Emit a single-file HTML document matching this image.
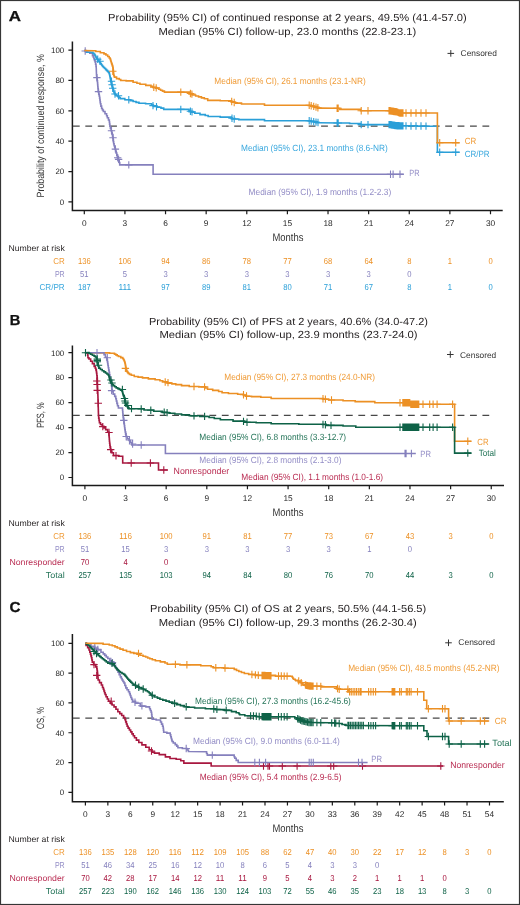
<!DOCTYPE html><html><head><meta charset="utf-8"><style>html,body{margin:0;padding:0;background:#fff;}svg{display:block;will-change:transform;}text{font-family:"Liberation Sans",sans-serif;text-rendering:geometricPrecision;}</style></head><body>
<svg width="520" height="905" viewBox="0 0 520 905">
<rect x="0" y="0" width="520" height="905" fill="#fff"/>
<rect x="0.5" y="0.5" width="519" height="904" fill="none" stroke="#363636" stroke-width="1.2"/>
<text x="8.68" y="21.1" font-size="14.5" fill="#111" textLength="12.24" lengthAdjust="spacingAndGlyphs" font-weight="bold" stroke="#111" stroke-width="0.3">A</text>
<text x="108.03" y="21.15" font-size="10.3" fill="#231F20" textLength="358.74" lengthAdjust="spacingAndGlyphs">Probability (95% CI) of continued response at 2 years, 49.5% (41.4-57.0)</text>
<text x="158.48" y="34.9" font-size="10.3" fill="#231F20" textLength="257.74" lengthAdjust="spacingAndGlyphs">Median (95% CI) follow-up, 23.0 months (22.8-23.1)</text>
<path d="M450.8 50.1V56.7M447.5 53.4H454.1" stroke="#333" stroke-width="1" fill="none"/>
<text x="460.61" y="55.8" font-size="8.4" fill="#333" textLength="36.31" lengthAdjust="spacingAndGlyphs">Censored</text>
<text transform="translate(44.3 125.8) rotate(-90)" x="0" y="0" font-size="10.5" fill="#333" text-anchor="middle" textLength="143.3" lengthAdjust="spacingAndGlyphs">Probability of continued response, %</text>
<path d="M72.4 41.5V210.5H502.7" stroke="#1a1a1a" stroke-width="1.5" fill="none"/>
<text x="64.2" y="52.9" font-size="7.9" fill="#262626" text-anchor="end">100</text>
<text x="64.2" y="83.26" font-size="7.9" fill="#262626" text-anchor="end">80</text>
<text x="64.2" y="113.62" font-size="7.9" fill="#262626" text-anchor="end">60</text>
<text x="64.2" y="143.98" font-size="7.9" fill="#262626" text-anchor="end">40</text>
<text x="64.2" y="174.34" font-size="7.9" fill="#262626" text-anchor="end">20</text>
<text x="64.2" y="204.7" font-size="7.9" fill="#262626" text-anchor="end">0</text>
<text x="84.3" y="225.9" font-size="8.3" fill="#262626" text-anchor="middle">0</text>
<text x="124.92" y="225.9" font-size="8.3" fill="#262626" text-anchor="middle">3</text>
<text x="165.54" y="225.9" font-size="8.3" fill="#262626" text-anchor="middle">6</text>
<text x="206.16" y="225.9" font-size="8.3" fill="#262626" text-anchor="middle">9</text>
<text x="246.78" y="225.9" font-size="8.3" fill="#262626" text-anchor="middle">12</text>
<text x="287.4" y="225.9" font-size="8.3" fill="#262626" text-anchor="middle">15</text>
<text x="328.02" y="225.9" font-size="8.3" fill="#262626" text-anchor="middle">18</text>
<text x="368.64" y="225.9" font-size="8.3" fill="#262626" text-anchor="middle">21</text>
<text x="409.26" y="225.9" font-size="8.3" fill="#262626" text-anchor="middle">24</text>
<text x="449.88" y="225.9" font-size="8.3" fill="#262626" text-anchor="middle">27</text>
<text x="490.5" y="225.9" font-size="8.3" fill="#262626" text-anchor="middle">30</text>
<path d="M68.4 50.1H72.4M68.4 80.46H72.4M68.4 110.82H72.4M68.4 141.18H72.4M68.4 171.54H72.4M68.4 201.9H72.4M84.3 210.5V214.3M124.92 210.5V214.3M165.54 210.5V214.3M206.16 210.5V214.3M246.78 210.5V214.3M287.4 210.5V214.3M328.02 210.5V214.3M368.64 210.5V214.3M409.26 210.5V214.3M449.88 210.5V214.3M490.5 210.5V214.3" stroke="#1a1a1a" stroke-width="1.2" fill="none"/>
<text x="272.53" y="241.2" font-size="11" fill="#333" textLength="30.92" lengthAdjust="spacingAndGlyphs">Months</text>
<path d="M72.9 126.15H490" stroke="#484848" stroke-width="1.25" stroke-dasharray="6.8 5.61" fill="none"/>
<polyline points="84.4,50.5 86.05,50.5 86.05,52.3 87.7,52.3 89.8,52.3 89.8,53.1 91.9,53.1 92.5,53.1 92.5,55.8 93.1,55.8 93.38,55.8 93.38,57.3 93.92,57.3 93.92,58.8 94.2,58.8 94.5,58.8 94.5,60.35 95.1,60.35 95.1,61.9 95.4,61.9 95.6,61.9 95.6,64.2 96,64.2 96,66.5 96.2,66.5 96.5,75 96.65,75 96.65,76.97 96.95,76.97 96.95,78.93 97.25,78.93 97.25,80.9 97.4,80.9 97.48,80.9 97.48,82.76 97.64,82.76 97.64,84.62 97.8,84.62 97.8,86.48 97.96,86.48 97.96,88.34 98.12,88.34 98.12,90.2 98.2,90.2 98.42,90.2 98.42,92.2 98.85,92.2 98.85,94.2 99.28,94.2 99.28,96.2 99.5,96.2 99.62,96.2 99.62,98.1 99.88,98.1 99.88,100 100.12,100 100.12,101.9 100.38,101.9 100.38,103.8 100.5,103.8 100.88,103.8 100.88,106.15 101.62,106.15 101.62,108.5 102,108.5 102.45,108.5 102.45,110 103.35,110 103.35,111.5 103.8,111.5 105,111.5 105,113.8 106.2,113.8 106.58,113.8 106.58,115.75 107.33,115.75 107.33,117.7 107.7,117.7 108.45,117.7 108.45,120 109.2,120 109.33,120 109.33,122.07 109.6,122.07 109.6,124.13 109.87,124.13 109.87,126.2 110,126.2 110.38,126.2 110.38,128.5 111.12,128.5 111.12,130.8 111.5,130.8 111.72,130.8 111.72,132.6 112.15,132.6 112.15,134.4 112.58,134.4 112.58,136.2 112.8,136.2 112.92,136.2 112.92,138.1 113.17,138.1 113.17,140 113.42,140 113.42,141.9 113.67,141.9 113.67,143.8 113.8,143.8 114.1,143.8 114.1,145.75 114.7,145.75 114.7,147.7 115,147.7 115.25,147.7 115.25,149.5 115.75,149.5 115.75,151.3 116.25,151.3 116.25,153.1 116.5,153.1 116.8,153.1 116.8,155.4 117.4,155.4 117.4,157.7 117.7,157.7 118.3,157.7 118.3,160 118.9,160 119.18,160 119.18,162.45 119.72,162.45 119.72,164.9 120,164.9 153.1,164.9 153.1,174.3 403.8,174.3" fill="none" stroke="#8580BD" stroke-width="1.6" stroke-linejoin="miter" />
<path d="M96.9 73.92V81.32M93.2 77.62H100.6M98.5 87.88V95.28M94.8 91.58H102.2M111.5 127.1V134.5M107.8 130.8H115.2M113 134.02V141.42M109.3 137.72H116.7M115.4 145.44V152.84M111.7 149.14H119.1M117.7 154V161.4M114 157.7H121.4M118.6 155.72V163.12M114.9 159.42H122.3M128.8 161.2V168.6M125.1 164.9H132.5M390.5 170.6V178M386.8 174.3H394.2M393.1 170.6V178M389.4 174.3H396.8M400 170.6V178M396.3 174.3H403.7" stroke="#8580BD" stroke-width="1.1" fill="none"/>
<polyline points="84.4,50.5 85.23,50.5 85.23,51.4 86.88,51.4 86.88,52.3 87.7,52.3 92.3,52.3 92.88,52.3 92.88,53.25 94.02,53.25 94.02,54.2 94.6,54.2 94.87,54.2 94.87,55.23 95.4,55.23 95.4,56.27 95.93,56.27 95.93,57.3 96.2,57.3 96.58,57.3 96.58,58.33 97.35,58.33 97.35,59.37 98.12,59.37 98.12,60.4 98.5,60.4 98.88,60.4 98.88,61.43 99.65,61.43 99.65,62.47 100.42,62.47 100.42,63.5 100.8,63.5 101.17,63.5 101.17,64.5 101.9,64.5 101.9,65.5 102.63,65.5 102.63,66.5 103,66.5 103.53,66.5 103.53,67.53 104.6,67.53 104.6,68.57 105.67,68.57 105.67,69.6 106.2,69.6 106.7,69.6 106.7,70.63 107.7,70.63 107.7,71.67 108.7,71.67 108.7,72.7 109.2,72.7 109.3,72.7 109.3,73.6 109.5,73.6 109.5,74.5 109.7,74.5 109.7,75.4 109.9,75.4 109.9,76.3 110,76.3 110.08,76.3 110.08,77.22 110.24,77.22 110.24,78.14 110.4,78.14 110.4,79.06 110.56,79.06 110.56,79.98 110.72,79.98 110.72,80.9 110.8,80.9 110.92,80.9 110.92,81.93 111.15,81.93 111.15,82.97 111.38,82.97 111.38,84 111.5,84 111.66,84 111.66,84.92 111.98,84.92 111.98,85.84 112.3,85.84 112.3,86.76 112.62,86.76 112.62,87.68 112.94,87.68 112.94,88.6 113.1,88.6 113.23,88.6 113.23,89.56 113.49,89.56 113.49,90.52 113.75,90.52 113.75,91.48 114.01,91.48 114.01,92.44 114.27,92.44 114.27,93.4 114.4,93.4 115.12,93.4 115.12,94.6 116.58,94.6 116.58,95.8 117.3,95.8 117.88,95.8 117.88,96.73 119.05,96.73 119.05,97.67 120.22,97.67 120.22,98.6 120.8,98.6 124.8,98.6 124.8,99.8 128.8,99.8 130.25,99.8 130.25,100.65 133.15,100.65 133.15,101.5 134.6,101.5 136.05,101.5 136.05,102.4 138.95,102.4 138.95,103.3 140.4,103.3 145.6,103.3 145.6,103.8 150.8,103.8 151.65,103.8 151.65,104.95 153.35,104.95 153.35,106.1 154.2,106.1 157.1,106.1 157.1,107.3 160,107.3 161,107.3 161,108.1 162,108.1 163.7,108.1 163.7,109.4 165.4,109.4 188.5,109.4 188.97,109.4 188.97,110.35 189.93,110.35 189.93,111.3 190.4,111.3 191.85,111.3 191.85,112.3 194.75,112.3 194.75,113.3 196.2,113.3 200,113.3 200,114.6 203.8,114.6 205.25,114.6 205.25,115.55 208.15,115.55 208.15,116.5 209.6,116.5 220.2,116.5 220.2,117.1 230.8,117.1 231.28,117.1 231.28,118.05 232.22,118.05 232.22,119 232.7,119 238.75,119 238.75,119.6 244.8,119.6 264,119.6 264.5,119.6 264.5,120.8 265,120.8 309.2,120.8 311.1,120.8 311.1,121.5 313,121.5 315.9,121.5 315.9,122.7 318.8,122.7 339.2,123 349.6,123 349.6,123.5 360,123.5 360.6,123.5 360.6,124.6 361.2,124.6 390,124.6 393.5,124.6 393.5,125.8 397,125.8 417.2,125.8 417.2,126.2 437.4,126.2 437.4,152.3 459.7,152.3" fill="none" stroke="#2A9FD8" stroke-width="1.6" stroke-linejoin="miter" />
<path d="M85.2 47.24V54.64M81.5 50.94H88.9" stroke="#8580BD" stroke-width="1.1" fill="none"/>
<path d="M97.7 55.5V62.9M94 59.2H101.4M100 57.5V64.9M96.3 61.2H103.7M111.5 77.6V85M107.8 81.3H115.2M112.1 81.1V88.5M108.4 84.8H115.8M112.7 84.6V92M109 88.3H116.4M115 90.3V97.7M111.3 94H118.7M118.5 92.1V99.5M114.8 95.8H122.2M128.8 96.1V103.5M125.1 99.8H132.5M153 101.9V109.3M149.3 105.6H156.7M156.5 103V110.4M152.8 106.7H160.2M180.8 105.7V113.1M177.1 109.4H184.5M190.4 107.6V115M186.7 111.3H194.1M192 108.15V115.55M188.3 111.85H195.7M232 114.6V122M228.3 118.3H235.7M234.2 115.37V122.77M230.5 119.07H237.9M309.2 117.1V124.5M305.5 120.8H312.9M311.2 117.47V124.87M307.5 121.17H314.9M313.7 117.94V125.34M310 121.64H317.4M316 118.42V125.82M312.3 122.12H319.7M318 118.83V126.23M314.3 122.53H321.7M337.1 119.27V126.67M333.4 122.97H340.8M338.2 119.29V126.69M334.5 122.99H341.9M361.2 120.9V128.3M357.5 124.6H364.9M368 120.9V128.3M364.3 124.6H371.7M389 120.9V128.3M385.3 124.6H392.7M390 120.9V128.3M386.3 124.6H393.7M391 121.07V128.47M387.3 124.77H394.7M392 121.24V128.64M388.3 124.94H395.7M393 121.41V128.81M389.3 125.11H396.7M394 121.59V128.99M390.3 125.29H397.7M395 121.76V129.16M391.3 125.46H398.7M396 121.93V129.33M392.3 125.63H399.7M397 122.1V129.5M393.3 125.8H400.7M398 122.11V129.51M394.3 125.81H401.7M399 122.12V129.52M395.3 125.82H402.7M400 122.13V129.53M396.3 125.83H403.7M401 122.14V129.54M397.3 125.84H404.7M402 122.15V129.55M398.3 125.85H405.7M403 122.16V129.56M399.3 125.86H406.7M406 122.19V129.59M402.3 125.89H409.7M411 122.24V129.64M407.3 125.94H414.7M416 122.29V129.69M412.3 125.99H419.7M421 122.34V129.74M417.3 126.04H424.7M426 122.39V129.79M422.3 126.09H429.7M439.7 148.6V156M436 152.3H443.4M455.7 148.6V156M452 152.3H459.4" stroke="#2A9FD8" stroke-width="1.1" fill="none"/>
<polyline points="84.4,50.5 93.8,50.8 95.75,50.8 95.75,51.5 97.7,51.5 100.35,51.5 100.35,52.7 103,52.7 103.97,52.7 103.97,53.85 105.93,53.85 105.93,55 106.9,55 107.68,55 107.68,56.5 109.22,56.5 109.22,58 110,58 110.19,58 110.19,59.17 110.56,59.17 110.56,60.35 110.94,60.35 110.94,61.53 111.31,61.53 111.31,62.7 111.5,62.7 111.69,62.7 111.69,63.85 112.06,63.85 112.06,65 112.44,65 112.44,66.15 112.81,66.15 112.81,67.3 113,67.3 113.07,67.3 113.07,68.58 113.2,68.58 113.2,69.87 113.33,69.87 113.33,71.15 113.47,71.15 113.47,72.43 113.6,72.43 113.6,73.72 113.73,73.72 113.73,75 113.8,75 114,75 114,76.05 114.4,76.05 114.4,77.1 114.6,77.1 116.55,77.1 116.55,78.6 118.5,78.6 119.25,78.6 119.25,79.55 120.75,79.55 120.75,80.5 121.5,80.5 126.15,80.5 126.15,80.9 130.8,80.9 133.1,80.9 133.1,82.2 135.4,82.2 136.93,82.2 136.93,83.25 139.97,83.25 139.97,84.3 141.5,84.3 145.75,84.3 145.75,85.4 150,85.4 150.95,85.4 150.95,86.35 152.85,86.35 152.85,87.3 153.8,87.3 155.75,87.3 155.75,88.3 157.7,88.3 158.65,88.3 158.65,89.25 160.55,89.25 160.55,90.2 161.5,90.2 162.47,90.2 162.47,91.15 164.43,91.15 164.43,92.1 165.4,92.1 188.5,92.1 189.45,92.1 189.45,93.5 190.4,93.5 192.3,93.5 192.3,95 194.2,95 195.65,95 195.65,95.95 198.55,95.95 198.55,96.9 200,96.9 201.45,96.9 201.45,97.85 204.35,97.85 204.35,98.8 205.8,98.8 207.7,98.8 207.7,100.4 209.6,100.4 220.2,100.4 220.2,100.8 230.8,100.8 231.75,100.8 231.75,102.3 232.7,102.3 235.6,102.3 235.6,103.1 238.5,103.1 241.5,103.1 241.5,104 244.5,104 264,104 264.5,104 264.5,105.2 265,105.2 309.2,105.2 311.15,105.2 311.15,106.2 313.1,106.2 314.53,106.2 314.53,107.15 317.38,107.15 317.38,108.1 318.8,108.1 339.2,108.3 339.8,108.3 339.8,109.4 340.4,109.4 360,109.4 360.6,109.4 360.6,110.8 361.2,110.8 390,110.8 393.5,110.8 393.5,111.9 397,111.9 398.1,111.9 398.1,113 399.2,113 437.4,113 437.4,142.8 459.7,142.8" fill="none" stroke="#EC9024" stroke-width="1.6" stroke-linejoin="miter" />
<path d="M112.8 67.6V75M109.1 71.3H116.5M153.8 83.6V91M150.1 87.3H157.5M156.2 84.22V91.62M152.5 87.92H159.9M180.8 88.4V95.8M177.1 92.1H184.5M190.4 89.8V97.2M186.7 93.5H194.1M191.9 90.39V97.79M188.2 94.09H195.6M231.7 97.81V105.21M228 101.51H235.4M234.2 98.81V106.21M230.5 102.51H237.9M309.2 101.5V108.9M305.5 105.2H312.9M311.2 102.01V109.41M307.5 105.71H314.9M313.7 102.7V110.1M310 106.4H317.4M316 103.47V110.87M312.3 107.17H319.7M317.9 104.1V111.5M314.2 107.8H321.6M337.1 104.58V111.98M333.4 108.28H340.8M338.2 104.59V111.99M334.5 108.29H341.9M361.2 107.1V114.5M357.5 110.8H364.9M368 107.1V114.5M364.3 110.8H371.7M389 107.1V114.5M385.3 110.8H392.7M390 107.1V114.5M386.3 110.8H393.7M391 107.26V114.66M387.3 110.96H394.7M392 107.41V114.81M388.3 111.11H395.7M393 107.57V114.97M389.3 111.27H396.7M394 107.73V115.13M390.3 111.43H397.7M395 107.89V115.29M391.3 111.59H398.7M396 108.04V115.44M392.3 111.74H399.7M397 108.2V115.6M393.3 111.9H400.7M398 108.7V116.1M394.3 112.4H401.7M399 109.2V116.6M395.3 112.9H402.7M400 109.3V116.7M396.3 113H403.7M401 109.3V116.7M397.3 113H404.7M402 109.3V116.7M398.3 113H405.7M403 109.3V116.7M399.3 113H406.7M406 109.3V116.7M402.3 113H409.7M411 109.3V116.7M407.3 113H414.7M416 109.3V116.7M412.3 113H419.7M421 109.3V116.7M417.3 113H424.7M426 109.3V116.7M422.3 113H429.7M439.7 139.1V146.5M436 142.8H443.4M455.7 139.1V146.5M452 142.8H459.4" stroke="#EC9024" stroke-width="1.1" fill="none"/>
<text x="214.37" y="83.6" font-size="9" fill="#F09C38" textLength="151.48" lengthAdjust="spacingAndGlyphs">Median (95% CI), 26.1 months (23.1-NR)</text>
<text x="241.07" y="150.5" font-size="9" fill="#3AA8DE" textLength="146.68" lengthAdjust="spacingAndGlyphs">Median (95% CI), 23.1 months (8.6-NR)</text>
<text x="248.57" y="194.7" font-size="9" fill="#938DC6" textLength="142.68" lengthAdjust="spacingAndGlyphs">Median (95% CI), 1.9 months (1.2-2.3)</text>
<text x="464.77" y="143.5" font-size="9" fill="#F09C38" textLength="11.48" lengthAdjust="spacingAndGlyphs">CR</text>
<text x="464.77" y="156.9" font-size="9" fill="#3AA8DE" textLength="24.88" lengthAdjust="spacingAndGlyphs">CR/PR</text>
<text x="409.37" y="176.2" font-size="9" fill="#938DC6" textLength="10.28" lengthAdjust="spacingAndGlyphs">PR</text>
<text x="8.41" y="251.3" font-size="8.4" fill="#231F20" textLength="56.31" lengthAdjust="spacingAndGlyphs">Number at risk</text>
<text x="53.2" y="264.3" font-size="8.6" fill="#F09C38" textLength="11.53" lengthAdjust="spacingAndGlyphs">CR</text>
<text x="84.3" y="264.3" font-size="8.6" fill="#EC9024" text-anchor="middle" textLength="12.75" lengthAdjust="spacingAndGlyphs">136</text>
<text x="124.92" y="264.3" font-size="8.6" fill="#EC9024" text-anchor="middle" textLength="12.75" lengthAdjust="spacingAndGlyphs">106</text>
<text x="165.54" y="264.3" font-size="8.6" fill="#EC9024" text-anchor="middle" textLength="8.5" lengthAdjust="spacingAndGlyphs">94</text>
<text x="206.16" y="264.3" font-size="8.6" fill="#EC9024" text-anchor="middle" textLength="8.5" lengthAdjust="spacingAndGlyphs">86</text>
<text x="246.78" y="264.3" font-size="8.6" fill="#EC9024" text-anchor="middle" textLength="8.5" lengthAdjust="spacingAndGlyphs">78</text>
<text x="287.4" y="264.3" font-size="8.6" fill="#EC9024" text-anchor="middle" textLength="8.5" lengthAdjust="spacingAndGlyphs">77</text>
<text x="328.02" y="264.3" font-size="8.6" fill="#EC9024" text-anchor="middle" textLength="8.5" lengthAdjust="spacingAndGlyphs">68</text>
<text x="368.64" y="264.3" font-size="8.6" fill="#EC9024" text-anchor="middle" textLength="8.5" lengthAdjust="spacingAndGlyphs">64</text>
<text x="409.26" y="264.3" font-size="8.6" fill="#EC9024" text-anchor="middle" textLength="4.25" lengthAdjust="spacingAndGlyphs">8</text>
<text x="449.88" y="264.3" font-size="8.6" fill="#EC9024" text-anchor="middle" textLength="4.25" lengthAdjust="spacingAndGlyphs">1</text>
<text x="490.5" y="264.3" font-size="8.6" fill="#EC9024" text-anchor="middle" textLength="4.25" lengthAdjust="spacingAndGlyphs">0</text>
<text x="54.9" y="277" font-size="8.6" fill="#938DC6" textLength="9.83" lengthAdjust="spacingAndGlyphs">PR</text>
<text x="84.3" y="277" font-size="8.6" fill="#8580BD" text-anchor="middle" textLength="8.5" lengthAdjust="spacingAndGlyphs">51</text>
<text x="124.92" y="277" font-size="8.6" fill="#8580BD" text-anchor="middle" textLength="4.25" lengthAdjust="spacingAndGlyphs">5</text>
<text x="165.54" y="277" font-size="8.6" fill="#8580BD" text-anchor="middle" textLength="4.25" lengthAdjust="spacingAndGlyphs">3</text>
<text x="206.16" y="277" font-size="8.6" fill="#8580BD" text-anchor="middle" textLength="4.25" lengthAdjust="spacingAndGlyphs">3</text>
<text x="246.78" y="277" font-size="8.6" fill="#8580BD" text-anchor="middle" textLength="4.25" lengthAdjust="spacingAndGlyphs">3</text>
<text x="287.4" y="277" font-size="8.6" fill="#8580BD" text-anchor="middle" textLength="4.25" lengthAdjust="spacingAndGlyphs">3</text>
<text x="328.02" y="277" font-size="8.6" fill="#8580BD" text-anchor="middle" textLength="4.25" lengthAdjust="spacingAndGlyphs">3</text>
<text x="368.64" y="277" font-size="8.6" fill="#8580BD" text-anchor="middle" textLength="4.25" lengthAdjust="spacingAndGlyphs">3</text>
<text x="409.26" y="277" font-size="8.6" fill="#8580BD" text-anchor="middle" textLength="4.25" lengthAdjust="spacingAndGlyphs">0</text>
<text x="39.4" y="289.6" font-size="8.6" fill="#3AA8DE" textLength="25.33" lengthAdjust="spacingAndGlyphs">CR/PR</text>
<text x="84.3" y="289.6" font-size="8.6" fill="#2A9FD8" text-anchor="middle" textLength="12.75" lengthAdjust="spacingAndGlyphs">187</text>
<text x="124.92" y="289.6" font-size="8.6" fill="#2A9FD8" text-anchor="middle" textLength="12.75" lengthAdjust="spacingAndGlyphs">111</text>
<text x="165.54" y="289.6" font-size="8.6" fill="#2A9FD8" text-anchor="middle" textLength="8.5" lengthAdjust="spacingAndGlyphs">97</text>
<text x="206.16" y="289.6" font-size="8.6" fill="#2A9FD8" text-anchor="middle" textLength="8.5" lengthAdjust="spacingAndGlyphs">89</text>
<text x="246.78" y="289.6" font-size="8.6" fill="#2A9FD8" text-anchor="middle" textLength="8.5" lengthAdjust="spacingAndGlyphs">81</text>
<text x="287.4" y="289.6" font-size="8.6" fill="#2A9FD8" text-anchor="middle" textLength="8.5" lengthAdjust="spacingAndGlyphs">80</text>
<text x="328.02" y="289.6" font-size="8.6" fill="#2A9FD8" text-anchor="middle" textLength="8.5" lengthAdjust="spacingAndGlyphs">71</text>
<text x="368.64" y="289.6" font-size="8.6" fill="#2A9FD8" text-anchor="middle" textLength="8.5" lengthAdjust="spacingAndGlyphs">67</text>
<text x="409.26" y="289.6" font-size="8.6" fill="#2A9FD8" text-anchor="middle" textLength="4.25" lengthAdjust="spacingAndGlyphs">8</text>
<text x="449.88" y="289.6" font-size="8.6" fill="#2A9FD8" text-anchor="middle" textLength="4.25" lengthAdjust="spacingAndGlyphs">1</text>
<text x="490.5" y="289.6" font-size="8.6" fill="#2A9FD8" text-anchor="middle" textLength="4.25" lengthAdjust="spacingAndGlyphs">0</text>
<text x="9.79" y="325" font-size="14.5" fill="#111" textLength="10.64" lengthAdjust="spacingAndGlyphs" font-weight="bold" stroke="#111" stroke-width="0.3">B</text>
<text x="148.98" y="324.5" font-size="10.3" fill="#231F20" textLength="279.04" lengthAdjust="spacingAndGlyphs">Probability (95% CI) of PFS at 2 years, 40.6% (34.0-47.2)</text>
<text x="159.48" y="338.3" font-size="10.3" fill="#231F20" textLength="258.14" lengthAdjust="spacingAndGlyphs">Median (95% CI) follow-up, 23.9 months (23.7-24.0)</text>
<path d="M450.3 351.2V357.8M447 354.5H453.6" stroke="#333" stroke-width="1" fill="none"/>
<text x="460.11" y="357.6" font-size="8.4" fill="#333" textLength="36.11" lengthAdjust="spacingAndGlyphs">Censored</text>
<text transform="translate(44.1 415.1) rotate(-90)" x="0" y="0" font-size="10.5" fill="#333" text-anchor="middle" textLength="25.4" lengthAdjust="spacingAndGlyphs">PFS, %</text>
<path d="M72.4 345.5V485.4H504" stroke="#1a1a1a" stroke-width="1.5" fill="none"/>
<text x="64.2" y="355.5" font-size="7.9" fill="#262626" text-anchor="end">100</text>
<text x="64.2" y="380.46" font-size="7.9" fill="#262626" text-anchor="end">80</text>
<text x="64.2" y="405.42" font-size="7.9" fill="#262626" text-anchor="end">60</text>
<text x="64.2" y="430.38" font-size="7.9" fill="#262626" text-anchor="end">40</text>
<text x="64.2" y="455.34" font-size="7.9" fill="#262626" text-anchor="end">20</text>
<text x="64.2" y="480.3" font-size="7.9" fill="#262626" text-anchor="end">0</text>
<text x="84.9" y="500.6" font-size="8.3" fill="#262626" text-anchor="middle">0</text>
<text x="125.53" y="500.6" font-size="8.3" fill="#262626" text-anchor="middle">3</text>
<text x="166.17" y="500.6" font-size="8.3" fill="#262626" text-anchor="middle">6</text>
<text x="206.81" y="500.6" font-size="8.3" fill="#262626" text-anchor="middle">9</text>
<text x="247.44" y="500.6" font-size="8.3" fill="#262626" text-anchor="middle">12</text>
<text x="288.08" y="500.6" font-size="8.3" fill="#262626" text-anchor="middle">15</text>
<text x="328.71" y="500.6" font-size="8.3" fill="#262626" text-anchor="middle">18</text>
<text x="369.35" y="500.6" font-size="8.3" fill="#262626" text-anchor="middle">21</text>
<text x="409.98" y="500.6" font-size="8.3" fill="#262626" text-anchor="middle">24</text>
<text x="450.62" y="500.6" font-size="8.3" fill="#262626" text-anchor="middle">27</text>
<text x="491.25" y="500.6" font-size="8.3" fill="#262626" text-anchor="middle">30</text>
<path d="M68.4 352.7H72.4M68.4 377.66H72.4M68.4 402.62H72.4M68.4 427.58H72.4M68.4 452.54H72.4M68.4 477.5H72.4M84.9 485.4V489.2M125.53 485.4V489.2M166.17 485.4V489.2M206.81 485.4V489.2M247.44 485.4V489.2M288.08 485.4V489.2M328.71 485.4V489.2M369.35 485.4V489.2M409.98 485.4V489.2M450.62 485.4V489.2M491.25 485.4V489.2" stroke="#1a1a1a" stroke-width="1.2" fill="none"/>
<text x="272.53" y="516.2" font-size="11" fill="#333" textLength="30.92" lengthAdjust="spacingAndGlyphs">Months</text>
<path d="M72.9 415.25H490" stroke="#484848" stroke-width="1.25" stroke-dasharray="6.8 5.61" fill="none"/>
<polyline points="84.9,352.8 105.4,352.9 109.6,352.9 109.6,353.3 113.8,353.3 114.47,353.3 114.47,354.1 115.83,354.1 115.83,354.9 116.5,354.9 117.17,354.9 117.17,355.7 118.53,355.7 118.53,356.5 119.2,356.5 120.75,356.5 120.75,357.6 122.3,357.6 122.67,357.6 122.67,358.55 123.42,358.55 123.42,359.5 123.8,359.5 124,359.5 124,360.53 124.4,360.53 124.4,361.57 124.8,361.57 124.8,362.6 125,362.6 125.1,362.6 125.1,363.58 125.3,363.58 125.3,364.55 125.5,364.55 125.5,365.52 125.7,365.52 125.7,366.5 125.8,366.5 125.89,366.5 125.89,367.45 126.06,367.45 126.06,368.4 126.24,368.4 126.24,369.35 126.41,369.35 126.41,370.3 126.5,370.3 126.83,370.3 126.83,371.33 127.5,371.33 127.5,372.37 128.17,372.37 128.17,373.4 128.5,373.4 129.45,373.4 129.45,374.35 131.35,374.35 131.35,375.3 132.3,375.3 134.25,375.3 134.25,376.5 136.2,376.5 138.1,376.5 138.1,377.1 140,377.1 142.5,377.1 142.5,377.9 145,377.9 148.38,377.9 148.38,378.85 155.12,378.85 155.12,379.8 158.5,379.8 159.93,379.8 159.93,380.75 162.77,380.75 162.77,381.7 164.2,381.7 167.1,381.7 167.1,383.1 170,383.1 171.93,383.1 171.93,383.85 175.77,383.85 175.77,384.6 177.7,384.6 181.55,384.6 181.55,385.6 185.4,385.6 189.25,385.6 189.25,386.5 193.1,386.5 198.85,386.5 198.85,386.9 204.6,386.9 205.57,386.9 205.57,388.05 207.53,388.05 207.53,389.2 208.5,389.2 212.7,389.2 212.7,390.4 216.9,390.4 218.62,390.4 218.62,391.55 222.08,391.55 222.08,392.7 223.8,392.7 228.43,392.7 228.43,393.5 237.68,393.5 237.68,394.3 242.3,394.3 243.45,394.3 243.45,395.25 245.75,395.25 245.75,396.2 246.9,396.2 251.55,396.2 251.55,396.6 256.2,396.6 260.8,396.6 260.8,397.3 265.4,397.3 271.15,397.3 271.15,398.5 276.9,398.5 320.8,398.5 323.48,398.5 323.48,399.25 328.82,399.25 328.82,400 331.5,400 343.05,400 343.05,400.7 354.6,400.7 355.2,400.7 355.2,401.6 355.8,401.6 374.2,401.6 374.8,401.6 374.8,402.8 375.4,402.8 410.2,402.8 410.2,404.2 454.6,404.2 454.6,441.2 471.4,441.2" fill="none" stroke="#EC9024" stroke-width="1.6" stroke-linejoin="miter" />
<path d="M125.4 364.7V372.1M121.7 368.4H129.1M165.2 378.24V385.64M161.5 381.94H168.9M168 378.92V386.32M164.3 382.62H171.7M194 382.83V390.23M190.3 386.53H197.7M204.6 383.2V390.6M200.9 386.9H208.3M243.5 391.1V398.5M239.8 394.8H247.2M246.5 392.33V399.73M242.8 396.03H250.2M323 395.11V402.51M319.3 398.81H326.7M325.4 395.44V402.84M321.7 399.14H329.1M331.5 396.3V403.7M327.8 400H335.2M400 399.1V406.5M396.3 402.8H403.7M402.8 399.1V406.5M399.1 402.8H406.5M403.8 399.1V406.5M400.1 402.8H407.5M404.8 399.1V406.5M401.1 402.8H408.5M405.8 399.1V406.5M402.1 402.8H409.5M406.8 399.1V406.5M403.1 402.8H410.5M407.8 399.1V406.5M404.1 402.8H411.5M408.8 399.1V406.5M405.1 402.8H412.5M409.8 399.1V406.5M406.1 402.8H413.5M410.8 400.5V407.9M407.1 404.2H414.5M411.8 400.5V407.9M408.1 404.2H415.5M412.8 400.5V407.9M409.1 404.2H416.5M413.8 400.5V407.9M410.1 404.2H417.5M414.8 400.5V407.9M411.1 404.2H418.5M415.8 400.5V407.9M412.1 404.2H419.5M416.8 400.5V407.9M413.1 404.2H420.5M417.8 400.5V407.9M414.1 404.2H421.5M418.8 400.5V407.9M415.1 404.2H422.5M423 400.5V407.9M419.3 404.2H426.7M429.7 400.5V407.9M426 404.2H433.4M433.1 400.5V407.9M429.4 404.2H436.8M437.1 400.5V407.9M433.4 404.2H440.8M452.6 400.5V407.9M448.9 404.2H456.3M467.8 437.5V444.9M464.1 441.2H471.5" stroke="#EC9024" stroke-width="1.1" fill="none"/>
<polyline points="84.9,352.8 103.5,352.8 104.05,352.8 104.05,354.6 104.6,354.6 105.4,354.6 105.4,357.3 106.2,357.3 106.75,357.3 106.75,360 107.3,360 107.43,360 107.43,361.83 107.7,361.83 107.7,363.67 107.97,363.67 107.97,365.5 108.1,365.5 108.3,365.5 108.3,367.8 108.7,367.8 108.7,370.1 108.9,370.1 109.1,370.1 109.1,372.4 109.5,372.4 109.5,374.7 109.7,374.7 109.88,374.7 109.88,376.8 110.25,376.8 110.25,378.9 110.62,378.9 110.62,381 110.8,381 111,381 111,383.3 111.4,383.3 111.4,385.6 111.6,385.6 111.73,385.6 111.73,387.67 112,387.67 112,389.73 112.27,389.73 112.27,391.8 112.4,391.8 113.15,391.8 113.15,394.1 113.9,394.1 114.7,394.1 114.7,396.4 115.5,396.4 115.78,396.4 115.78,398.7 116.32,398.7 116.32,401 116.6,401 116.9,401 116.9,403.35 117.5,403.35 117.5,405.7 117.8,405.7 118.4,405.7 118.4,408 119,408 122.4,408 122.5,408 122.5,409.95 122.7,409.95 122.7,411.9 122.8,411.9 122.87,411.9 122.87,413.7 123,413.7 123,415.5 123.13,415.5 123.13,417.3 123.2,417.3 123.35,417.3 123.35,418.85 123.65,418.85 123.65,420.4 123.8,420.4 123.92,420.4 123.92,422.24 124.16,422.24 124.16,424.08 124.4,424.08 124.4,425.92 124.64,425.92 124.64,427.76 124.88,427.76 124.88,429.6 125,429.6 125.2,429.6 125.2,431.9 125.6,431.9 125.6,434.2 126,434.2 126,436.5 126.2,436.5 127.35,436.5 127.35,438.8 128.5,438.8 129.07,438.8 129.07,440.55 130.23,440.55 130.23,442.3 130.8,442.3 131.7,442.3 131.7,445 132.6,445 165.4,445 165.4,453.5 415.8,453.5" fill="none" stroke="#8580BD" stroke-width="1.6" stroke-linejoin="miter" />
<path d="M97 349.1V356.5M93.3 352.8H100.7M107.3 354V361.4M103.6 357.7H111M111.6 386.9V394.3M107.9 390.6H115.3M123.8 416.7V424.1M120.1 420.4H127.5M126.2 432.8V440.2M122.5 436.5H129.9M129.5 436.3V443.7M125.8 440H133.2M132.6 440.3V447.7M128.9 444H136.3M141.2 441.3V448.7M137.5 445H144.9M405 449.8V457.2M401.3 453.5H408.7M406.1 449.8V457.2M402.4 453.5H409.8M411.4 449.8V457.2M407.7 453.5H415.1" stroke="#8580BD" stroke-width="1.1" fill="none"/>
<polyline points="84.9,352.8 87.5,352.8 87.65,352.8 87.65,355.3 87.95,355.3 87.95,357.8 88.1,357.8 88.95,357.8 88.95,359 89.8,359 90.65,359 90.65,361.3 91.5,361.3 92.4,361.3 92.4,363.6 93.3,363.6 94.15,363.6 94.15,366.5 95,366.5 95.3,366.5 95.3,368.2 95.9,368.2 95.9,369.9 96.2,369.9 96.33,369.9 96.33,371.65 96.58,371.65 96.58,373.4 96.7,373.4 96.85,373.4 96.85,375.7 97.15,375.7 97.15,378 97.3,378 97.5,386.5 97.55,386.5 97.55,388.62 97.65,388.62 97.65,390.75 97.75,390.75 97.75,392.88 97.85,392.88 97.85,395 97.9,395 97.93,395 97.93,397.08 97.99,397.08 97.99,399.16 98.05,399.16 98.05,401.24 98.11,401.24 98.11,403.32 98.17,403.32 98.17,405.4 98.23,405.4 98.23,407.48 98.29,407.48 98.29,409.56 98.35,409.56 98.35,411.64 98.41,411.64 98.41,413.72 98.47,413.72 98.47,415.8 98.5,415.8 98.68,415.8 98.68,418.1 99.05,418.1 99.05,420.4 99.42,420.4 99.42,422.7 99.6,422.7 100.45,422.7 100.45,424.45 102.15,424.45 102.15,426.2 103,426.2 103.88,426.2 103.88,427.9 105.62,427.9 105.62,429.6 106.5,429.6 107.65,429.6 107.65,432 108.8,432 108.87,432 108.87,433.84 109.01,433.84 109.01,435.68 109.15,435.68 109.15,437.52 109.29,437.52 109.29,439.36 109.43,439.36 109.43,441.2 109.5,441.2 109.62,441.2 109.62,443.2 109.88,443.2 109.88,445.2 110.12,445.2 110.12,447.2 110.38,447.2 110.38,449.2 110.5,449.2 110.95,449.2 110.95,450.95 111.85,450.95 111.85,452.7 112.3,452.7 113.45,452.7 113.45,455.5 114.6,455.5 118.65,455.5 118.65,456.2 122.7,456.2 122.7,463 158.5,463 158.5,470 167.9,470" fill="none" stroke="#A8173F" stroke-width="1.6" stroke-linejoin="miter" />
<path d="M96.8 377.3V384.7M93.1 381H100.5M97.1 380.8V388.2M93.4 384.5H100.8M97.2 386.7V394.1M93.5 390.4H100.9M98.3 399.6V407M94.6 403.3H102M102.8 422.9V430.3M99.1 426.6H106.5M109 428.8V436.2M105.3 432.5H112.7M110.7 445.9V453.3M107 449.6H114.4M116 452.1V459.5M112.3 455.8H119.7M131.2 459.3V466.7M127.5 463H134.9M150.4 459.3V466.7M146.7 463H154.1M163.8 466.3V473.7M160.1 470H167.5" stroke="#A8173F" stroke-width="1.1" fill="none"/>
<polyline points="84.9,352.8 88.1,352.6 88.95,352.6 88.95,353.45 90.65,353.45 90.65,354.3 91.5,354.3 92.38,354.3 92.38,355.2 94.12,355.2 94.12,356.1 95,356.1 95.42,356.1 95.42,356.95 96.28,356.95 96.28,357.8 96.7,357.8 97,361.3 97.11,361.3 97.11,362.3 97.34,362.3 97.34,363.3 97.56,363.3 97.56,364.3 97.79,364.3 97.79,365.3 97.9,365.3 98.18,365.3 98.18,366.27 98.75,366.27 98.75,367.23 99.32,367.23 99.32,368.2 99.6,368.2 100.47,368.2 100.47,369.45 102.22,369.45 102.22,370.7 103.1,370.7 103.9,370.7 103.9,371.85 105.5,371.85 105.5,373 106.3,373 106.9,373 106.9,374 108.1,374 108.1,375 108.7,375 108.83,375 108.83,376.04 109.09,376.04 109.09,377.08 109.35,377.08 109.35,378.12 109.61,378.12 109.61,379.16 109.87,379.16 109.87,380.2 110,380.2 110.27,380.2 110.27,381.23 110.8,381.23 110.8,382.27 111.33,382.27 111.33,383.3 111.6,383.3 112.17,383.3 112.17,384.45 113.33,384.45 113.33,385.6 113.9,385.6 114.68,385.6 114.68,386.75 116.22,386.75 116.22,387.9 117,387.9 117.78,387.9 117.78,388.65 119.32,388.65 119.32,389.4 120.1,389.4 120.67,389.4 120.67,390.2 121.83,390.2 121.83,391 122.4,391 122.5,391 122.5,391.98 122.7,391.98 122.7,392.95 122.9,392.95 122.9,393.92 123.1,393.92 123.1,394.9 123.2,394.9 123.45,394.9 123.45,395.93 123.95,395.93 123.95,396.97 124.45,396.97 124.45,398 124.7,398 124.78,398 124.78,398.92 124.94,398.92 124.94,399.84 125.1,399.84 125.1,400.76 125.26,400.76 125.26,401.68 125.42,401.68 125.42,402.6 125.5,402.6 125.7,402.6 125.7,403.63 126.1,403.63 126.1,404.67 126.5,404.67 126.5,405.7 126.7,405.7 127.15,405.7 127.15,406.67 128.05,406.67 128.05,407.63 128.95,407.63 128.95,408.6 129.4,408.6 139.2,408.7 144.02,408.7 144.02,409.95 153.68,409.95 153.68,411.2 158.5,411.2 162.35,411.2 162.35,412.5 166.2,412.5 169.07,412.5 169.07,413.25 174.82,413.25 174.82,414 177.7,414 181.55,414 181.55,414.9 189.25,414.9 189.25,415.8 193.1,415.8 199.8,415.8 199.8,416.5 206.5,416.5 209.1,416.5 209.1,417.5 214.3,417.5 214.3,418.5 216.9,418.5 220.35,418.5 220.35,419.7 223.8,419.7 233.05,419.7 233.05,421.1 242.3,421.1 244.6,421.1 244.6,422.2 246.9,422.2 256.15,422.2 256.15,422.7 265.4,422.7 271.15,422.7 271.15,423.8 276.9,423.8 298.85,423.8 298.85,424.3 320.8,424.3 326.15,424.3 326.15,425.4 331.5,425.4 343.05,425.4 343.05,426 354.6,426 355.8,426 355.8,427.2 357,427.2 454.6,427.2 454.6,453.1 471.4,453.1" fill="none" stroke="#0E6247" stroke-width="1.6" stroke-linejoin="miter" />
<path d="M85.5 349.1V356.5M81.8 352.8H89.2M97.3 355.3V362.7M93.6 359H101M97.3 356.7V364.1M93.6 360.4H101M97.3 358.1V365.5M93.6 361.8H101M98.5 361.6V369M94.8 365.3H102.2M111 376.3V383.7M107.3 380H114.7M112 379.3V386.7M108.3 383H115.7M122.4 385.8V393.2M118.7 389.5H126.1M124.5 394.8V402.2M120.8 398.5H128.2M125 397.3V404.7M121.3 401H128.7M125.5 399.3V406.7M121.8 403H129.2M127.7 401.8V409.2M124 405.5H131.4M131.5 404.92V412.32M127.8 408.62H135.2M141.2 405.26V412.66M137.5 408.96H144.9M150.8 406.5V413.9M147.1 410.2H154.5M164.2 408.46V415.86M160.5 412.16H167.9M167.1 408.92V416.32M163.4 412.62H170.8M194 412.15V419.55M190.3 415.85H197.7M204.6 412.7V420.1M200.9 416.4H208.3M243.5 417.69V425.09M239.8 421.39H247.2M247 418.5V425.9M243.3 422.2H250.7M323 420.83V428.23M319.3 424.53H326.7M325.4 421.07V428.47M321.7 424.77H329.1M331 421.65V429.05M327.3 425.35H334.7M400 423.5V430.9M396.3 427.2H403.7M402.8 423.5V430.9M399.1 427.2H406.5M403.8 423.5V430.9M400.1 427.2H407.5M404.8 423.5V430.9M401.1 427.2H408.5M405.8 423.5V430.9M402.1 427.2H409.5M406.8 423.5V430.9M403.1 427.2H410.5M407.8 423.5V430.9M404.1 427.2H411.5M408.8 423.5V430.9M405.1 427.2H412.5M409.8 423.5V430.9M406.1 427.2H413.5M410.8 423.5V430.9M407.1 427.2H414.5M411.8 423.5V430.9M408.1 427.2H415.5M412.8 423.5V430.9M409.1 427.2H416.5M413.8 423.5V430.9M410.1 427.2H417.5M414.8 423.5V430.9M411.1 427.2H418.5M415.8 423.5V430.9M412.1 427.2H419.5M416.8 423.5V430.9M413.1 427.2H420.5M417.8 423.5V430.9M414.1 427.2H421.5M418.8 423.5V430.9M415.1 427.2H422.5M423 423.5V430.9M419.3 427.2H426.7M429.7 423.5V430.9M426 427.2H433.4M433.1 423.5V430.9M429.4 427.2H436.8M437.1 423.5V430.9M433.4 427.2H440.8M452.6 423.5V430.9M448.9 427.2H456.3M467.8 449.4V456.8M464.1 453.1H471.5" stroke="#0E6247" stroke-width="1.1" fill="none"/>
<text x="224.37" y="379.5" font-size="9" fill="#F09C38" textLength="150.68" lengthAdjust="spacingAndGlyphs">Median (95% CI), 27.3 months (24.0-NR)</text>
<text x="199.37" y="440.2" font-size="9" fill="#257559" textLength="146.78" lengthAdjust="spacingAndGlyphs">Median (95% CI), 6.8 months (3.3-12.7)</text>
<text x="199.37" y="463" font-size="9" fill="#938DC6" textLength="142.08" lengthAdjust="spacingAndGlyphs">Median (95% CI), 2.8 months (2.1-3.0)</text>
<text x="241.37" y="480.2" font-size="9" fill="#B92C52" textLength="141.68" lengthAdjust="spacingAndGlyphs">Median (95% CI), 1.1 months (1.0-1.6)</text>
<text x="173.57" y="474" font-size="9" fill="#B92C52" textLength="55.68" lengthAdjust="spacingAndGlyphs">Nonresponder</text>
<text x="477.37" y="444.5" font-size="9" fill="#F09C38" textLength="11.28" lengthAdjust="spacingAndGlyphs">CR</text>
<text x="478.67" y="456.2" font-size="9" fill="#257559" textLength="17.28" lengthAdjust="spacingAndGlyphs">Total</text>
<text x="420.37" y="457.1" font-size="9" fill="#938DC6" textLength="10.58" lengthAdjust="spacingAndGlyphs">PR</text>
<text x="8.41" y="526.3" font-size="8.4" fill="#231F20" textLength="56.31" lengthAdjust="spacingAndGlyphs">Number at risk</text>
<text x="53.2" y="539.3" font-size="8.6" fill="#F09C38" textLength="11.53" lengthAdjust="spacingAndGlyphs">CR</text>
<text x="84.9" y="539.3" font-size="8.6" fill="#EC9024" text-anchor="middle" textLength="12.75" lengthAdjust="spacingAndGlyphs">136</text>
<text x="125.53" y="539.3" font-size="8.6" fill="#EC9024" text-anchor="middle" textLength="12.75" lengthAdjust="spacingAndGlyphs">116</text>
<text x="166.17" y="539.3" font-size="8.6" fill="#EC9024" text-anchor="middle" textLength="12.75" lengthAdjust="spacingAndGlyphs">100</text>
<text x="206.81" y="539.3" font-size="8.6" fill="#EC9024" text-anchor="middle" textLength="8.5" lengthAdjust="spacingAndGlyphs">91</text>
<text x="247.44" y="539.3" font-size="8.6" fill="#EC9024" text-anchor="middle" textLength="8.5" lengthAdjust="spacingAndGlyphs">81</text>
<text x="288.08" y="539.3" font-size="8.6" fill="#EC9024" text-anchor="middle" textLength="8.5" lengthAdjust="spacingAndGlyphs">77</text>
<text x="328.71" y="539.3" font-size="8.6" fill="#EC9024" text-anchor="middle" textLength="8.5" lengthAdjust="spacingAndGlyphs">73</text>
<text x="369.35" y="539.3" font-size="8.6" fill="#EC9024" text-anchor="middle" textLength="8.5" lengthAdjust="spacingAndGlyphs">67</text>
<text x="409.98" y="539.3" font-size="8.6" fill="#EC9024" text-anchor="middle" textLength="8.5" lengthAdjust="spacingAndGlyphs">43</text>
<text x="450.62" y="539.3" font-size="8.6" fill="#EC9024" text-anchor="middle" textLength="4.25" lengthAdjust="spacingAndGlyphs">3</text>
<text x="491.25" y="539.3" font-size="8.6" fill="#EC9024" text-anchor="middle" textLength="4.25" lengthAdjust="spacingAndGlyphs">0</text>
<text x="54.9" y="552" font-size="8.6" fill="#938DC6" textLength="9.83" lengthAdjust="spacingAndGlyphs">PR</text>
<text x="84.9" y="552" font-size="8.6" fill="#8580BD" text-anchor="middle" textLength="8.5" lengthAdjust="spacingAndGlyphs">51</text>
<text x="125.53" y="552" font-size="8.6" fill="#8580BD" text-anchor="middle" textLength="8.5" lengthAdjust="spacingAndGlyphs">15</text>
<text x="166.17" y="552" font-size="8.6" fill="#8580BD" text-anchor="middle" textLength="4.25" lengthAdjust="spacingAndGlyphs">3</text>
<text x="206.81" y="552" font-size="8.6" fill="#8580BD" text-anchor="middle" textLength="4.25" lengthAdjust="spacingAndGlyphs">3</text>
<text x="247.44" y="552" font-size="8.6" fill="#8580BD" text-anchor="middle" textLength="4.25" lengthAdjust="spacingAndGlyphs">3</text>
<text x="288.08" y="552" font-size="8.6" fill="#8580BD" text-anchor="middle" textLength="4.25" lengthAdjust="spacingAndGlyphs">3</text>
<text x="328.71" y="552" font-size="8.6" fill="#8580BD" text-anchor="middle" textLength="4.25" lengthAdjust="spacingAndGlyphs">3</text>
<text x="369.35" y="552" font-size="8.6" fill="#8580BD" text-anchor="middle" textLength="4.25" lengthAdjust="spacingAndGlyphs">1</text>
<text x="409.98" y="552" font-size="8.6" fill="#8580BD" text-anchor="middle" textLength="4.25" lengthAdjust="spacingAndGlyphs">0</text>
<text x="9.4" y="565" font-size="8.6" fill="#B92C52" textLength="55.33" lengthAdjust="spacingAndGlyphs">Nonresponder</text>
<text x="84.9" y="565" font-size="8.6" fill="#A8173F" text-anchor="middle" textLength="8.5" lengthAdjust="spacingAndGlyphs">70</text>
<text x="125.53" y="565" font-size="8.6" fill="#A8173F" text-anchor="middle" textLength="4.25" lengthAdjust="spacingAndGlyphs">4</text>
<text x="166.17" y="565" font-size="8.6" fill="#A8173F" text-anchor="middle" textLength="4.25" lengthAdjust="spacingAndGlyphs">0</text>
<text x="45.7" y="578.3" font-size="8.6" fill="#257559" textLength="19.03" lengthAdjust="spacingAndGlyphs">Total</text>
<text x="84.9" y="578.3" font-size="8.6" fill="#0E6247" text-anchor="middle" textLength="12.75" lengthAdjust="spacingAndGlyphs">257</text>
<text x="125.53" y="578.3" font-size="8.6" fill="#0E6247" text-anchor="middle" textLength="12.75" lengthAdjust="spacingAndGlyphs">135</text>
<text x="166.17" y="578.3" font-size="8.6" fill="#0E6247" text-anchor="middle" textLength="12.75" lengthAdjust="spacingAndGlyphs">103</text>
<text x="206.81" y="578.3" font-size="8.6" fill="#0E6247" text-anchor="middle" textLength="8.5" lengthAdjust="spacingAndGlyphs">94</text>
<text x="247.44" y="578.3" font-size="8.6" fill="#0E6247" text-anchor="middle" textLength="8.5" lengthAdjust="spacingAndGlyphs">84</text>
<text x="288.08" y="578.3" font-size="8.6" fill="#0E6247" text-anchor="middle" textLength="8.5" lengthAdjust="spacingAndGlyphs">80</text>
<text x="328.71" y="578.3" font-size="8.6" fill="#0E6247" text-anchor="middle" textLength="8.5" lengthAdjust="spacingAndGlyphs">76</text>
<text x="369.35" y="578.3" font-size="8.6" fill="#0E6247" text-anchor="middle" textLength="8.5" lengthAdjust="spacingAndGlyphs">70</text>
<text x="409.98" y="578.3" font-size="8.6" fill="#0E6247" text-anchor="middle" textLength="8.5" lengthAdjust="spacingAndGlyphs">44</text>
<text x="450.62" y="578.3" font-size="8.6" fill="#0E6247" text-anchor="middle" textLength="4.25" lengthAdjust="spacingAndGlyphs">3</text>
<text x="491.25" y="578.3" font-size="8.6" fill="#0E6247" text-anchor="middle" textLength="4.25" lengthAdjust="spacingAndGlyphs">0</text>
<text x="9.48" y="612.4" font-size="14.5" fill="#111" textLength="11.04" lengthAdjust="spacingAndGlyphs" font-weight="bold" stroke="#111" stroke-width="0.3">C</text>
<text x="150.08" y="612.4" font-size="10.3" fill="#231F20" textLength="276.14" lengthAdjust="spacingAndGlyphs">Probability (95% CI) of OS at 2 years, 50.5% (44.1-56.5)</text>
<text x="158.78" y="625.8" font-size="10.3" fill="#231F20" textLength="257.94" lengthAdjust="spacingAndGlyphs">Median (95% CI) follow-up, 29.3 months (26.2-30.4)</text>
<path d="M448.5 639.5V646.1M445.2 642.8H451.8" stroke="#333" stroke-width="1" fill="none"/>
<text x="458.31" y="645.2" font-size="8.4" fill="#333" textLength="36.81" lengthAdjust="spacingAndGlyphs">Censored</text>
<text transform="translate(44.1 717.9) rotate(-90)" x="0" y="0" font-size="10.5" fill="#333" text-anchor="middle" textLength="22.2" lengthAdjust="spacingAndGlyphs">OS, %</text>
<path d="M72.4 633.9V801.7H503.8" stroke="#1a1a1a" stroke-width="1.5" fill="none"/>
<text x="64.2" y="646.1" font-size="7.9" fill="#262626" text-anchor="end">100</text>
<text x="64.2" y="675.92" font-size="7.9" fill="#262626" text-anchor="end">80</text>
<text x="64.2" y="705.74" font-size="7.9" fill="#262626" text-anchor="end">60</text>
<text x="64.2" y="735.56" font-size="7.9" fill="#262626" text-anchor="end">40</text>
<text x="64.2" y="765.38" font-size="7.9" fill="#262626" text-anchor="end">20</text>
<text x="64.2" y="795.2" font-size="7.9" fill="#262626" text-anchor="end">0</text>
<text x="85.4" y="816.7" font-size="8.3" fill="#262626" text-anchor="middle">0</text>
<text x="107.85" y="816.7" font-size="8.3" fill="#262626" text-anchor="middle">3</text>
<text x="130.3" y="816.7" font-size="8.3" fill="#262626" text-anchor="middle">6</text>
<text x="152.75" y="816.7" font-size="8.3" fill="#262626" text-anchor="middle">9</text>
<text x="175.2" y="816.7" font-size="8.3" fill="#262626" text-anchor="middle">12</text>
<text x="197.64" y="816.7" font-size="8.3" fill="#262626" text-anchor="middle">15</text>
<text x="220.09" y="816.7" font-size="8.3" fill="#262626" text-anchor="middle">18</text>
<text x="242.54" y="816.7" font-size="8.3" fill="#262626" text-anchor="middle">21</text>
<text x="264.99" y="816.7" font-size="8.3" fill="#262626" text-anchor="middle">24</text>
<text x="287.44" y="816.7" font-size="8.3" fill="#262626" text-anchor="middle">27</text>
<text x="309.89" y="816.7" font-size="8.3" fill="#262626" text-anchor="middle">30</text>
<text x="332.34" y="816.7" font-size="8.3" fill="#262626" text-anchor="middle">33</text>
<text x="354.79" y="816.7" font-size="8.3" fill="#262626" text-anchor="middle">36</text>
<text x="377.24" y="816.7" font-size="8.3" fill="#262626" text-anchor="middle">39</text>
<text x="399.69" y="816.7" font-size="8.3" fill="#262626" text-anchor="middle">42</text>
<text x="422.13" y="816.7" font-size="8.3" fill="#262626" text-anchor="middle">45</text>
<text x="444.58" y="816.7" font-size="8.3" fill="#262626" text-anchor="middle">48</text>
<text x="467.03" y="816.7" font-size="8.3" fill="#262626" text-anchor="middle">51</text>
<text x="489.48" y="816.7" font-size="8.3" fill="#262626" text-anchor="middle">54</text>
<path d="M68.4 643.3H72.4M68.4 673.12H72.4M68.4 702.94H72.4M68.4 732.76H72.4M68.4 762.58H72.4M68.4 792.4H72.4M85.4 801.7V805.5M107.85 801.7V805.5M130.3 801.7V805.5M152.75 801.7V805.5M175.2 801.7V805.5M197.64 801.7V805.5M220.09 801.7V805.5M242.54 801.7V805.5M264.99 801.7V805.5M287.44 801.7V805.5M309.89 801.7V805.5M332.34 801.7V805.5M354.79 801.7V805.5M377.24 801.7V805.5M399.69 801.7V805.5M422.13 801.7V805.5M444.58 801.7V805.5M467.03 801.7V805.5M489.48 801.7V805.5" stroke="#1a1a1a" stroke-width="1.2" fill="none"/>
<text x="272.53" y="832.3" font-size="11" fill="#333" textLength="30.92" lengthAdjust="spacingAndGlyphs">Months</text>
<path d="M72.9 718H490" stroke="#484848" stroke-width="1.25" stroke-dasharray="6.8 5.61" fill="none"/>
<polyline points="85.4,643.3 86.05,643.3 86.05,645.4 86.7,645.4 87.65,645.4 87.65,647.7 88.6,647.7 89,647.7 89,650 89.8,650 89.8,652.3 90.2,652.3 90.45,652.3 90.45,654.1 90.95,654.1 90.95,655.9 91.45,655.9 91.45,657.7 91.7,657.7 91.9,657.7 91.9,660 92.3,660 92.3,662.3 92.5,662.3 93.65,662.3 93.65,664.6 94.8,664.6 95.75,664.6 95.75,666.9 96.7,666.9 96.83,666.9 96.83,668.7 97.1,668.7 97.1,670.5 97.37,670.5 97.37,672.3 97.5,672.3 97.59,672.3 97.59,674.22 97.76,674.22 97.76,676.15 97.94,676.15 97.94,678.08 98.11,678.08 98.11,680 98.2,680 99.5,680 99.5,682.6 100.8,682.6 101.38,682.6 101.38,685.05 102.52,685.05 102.52,687.5 103.1,687.5 103.39,687.5 103.39,689.25 103.96,689.25 103.96,691 104.54,691 104.54,692.75 105.11,692.75 105.11,694.5 105.4,694.5 106.03,694.5 106.03,696.73 107.3,696.73 107.3,698.97 108.57,698.97 108.57,701.2 109.2,701.2 110.17,701.2 110.17,703.1 112.1,703.1 112.1,705 114.03,705 114.03,706.9 115,706.9 115.95,706.9 115.95,709.3 117.85,709.3 117.85,711.7 118.8,711.7 119.77,711.7 119.77,713.63 121.7,713.63 121.7,715.57 123.63,715.57 123.63,717.5 124.6,717.5 124.96,717.5 124.96,719.67 125.69,719.67 125.69,721.85 126.41,721.85 126.41,724.03 127.14,724.03 127.14,726.2 127.5,726.2 128.13,726.2 128.13,728.1 129.4,728.1 129.4,730 130.67,730 130.67,731.9 131.3,731.9 131.95,731.9 131.95,733.83 133.25,733.83 133.25,735.77 134.55,735.77 134.55,737.7 135.2,737.7 136.4,737.7 136.4,740.1 138.8,740.1 138.8,742.5 140,742.5 141.93,742.5 141.93,744.9 145.77,744.9 145.77,747.3 147.7,747.3 149.15,747.3 149.15,749.7 152.05,749.7 152.05,752.1 153.5,752.1 154.45,752.1 154.45,753.1 155.4,753.1 159.25,753.1 159.25,754.6 163.1,754.6 165.4,754.6 165.4,756.9 167.7,756.9 170,756.9 170,758.5 172.3,758.5 176.15,758.5 176.15,759.2 180,759.2 180.75,759.2 180.75,760.8 181.5,760.8 183.85,760.8 183.85,763.1 186.2,763.1 210.8,763.1 211.15,763.1 211.15,766 211.5,766 443,766" fill="none" stroke="#A8173F" stroke-width="1.6" stroke-linejoin="miter" />
<path d="M94 660.9V668.3M90.3 664.6H97.7M96.7 671.7V679.1M93 675.4H100.4M111.2 697.5V704.9M107.5 701.2H114.9M151.5 747.3V754.7M147.8 751H155.2M263.5 762.3V769.7M259.8 766H267.2M268 762.3V769.7M264.3 766H271.7M269.5 762.3V769.7M265.8 766H273.2M282.3 762.3V769.7M278.6 766H286M297.1 762.3V769.7M293.4 766H300.8M330.8 762.3V769.7M327.1 766H334.5M333.7 762.3V769.7M330 766H337.4M362.5 762.3V769.7M358.8 766H366.2M440.8 762.3V769.7M437.1 766H444.5" stroke="#A8173F" stroke-width="1.1" fill="none"/>
<polyline points="85.4,643.3 87,643.3 87,643.8 88.6,643.8 90.9,643.8 90.9,646.2 93.2,646.2 94.75,646.2 94.75,648.5 96.3,648.5 97.85,648.5 97.85,650 99.4,650 100.95,650 100.95,652.3 102.5,652.3 103.25,652.3 103.25,653.85 104.75,653.85 104.75,655.4 105.5,655.4 106.28,655.4 106.28,656.95 107.82,656.95 107.82,658.5 108.6,658.5 109.75,658.5 109.75,660.8 110.9,660.8 112.05,660.8 112.05,663.1 113.2,663.1 113.97,663.1 113.97,665.4 115.53,665.4 115.53,667.7 116.3,667.7 116.88,667.7 116.88,670 118.02,670 118.02,672.3 118.6,672.3 119.17,672.3 119.17,674.6 120.33,674.6 120.33,676.9 120.9,676.9 121.3,676.9 121.3,678.45 122.1,678.45 122.1,680 122.5,680 122.97,680 122.97,681.5 123.93,681.5 123.93,683 124.4,683 124.88,683 124.88,685.45 125.83,685.45 125.83,687.9 126.3,687.9 127.02,687.9 127.02,689.8 128.47,689.8 128.47,691.7 129.2,691.7 129.53,691.7 129.53,693.63 130.2,693.63 130.2,695.57 130.87,695.57 130.87,697.5 131.2,697.5 131.67,697.5 131.67,699.4 132.62,699.4 132.62,701.3 133.1,701.3 135.5,701.3 135.5,703.3 137.9,703.3 140.3,703.3 140.3,706.2 142.7,706.2 145.95,706.2 145.95,706.9 149.2,706.9 149.58,706.9 149.58,708.7 150.35,708.7 150.35,710.5 151.12,710.5 151.12,712.3 151.5,712.3 151.63,712.3 151.63,714.6 151.9,714.6 151.9,716.9 152.17,716.9 152.17,719.2 152.3,719.2 156.15,719.2 156.15,720 160,720 160.52,720 160.52,722.07 161.55,722.07 161.55,724.13 162.58,724.13 162.58,726.2 163.1,726.2 163.22,726.2 163.22,728.23 163.45,728.23 163.45,730.27 163.68,730.27 163.68,732.3 163.8,732.3 166.9,732.3 166.9,733.1 170,733.1 170.25,733.1 170.25,734.9 170.75,734.9 170.75,736.7 171.25,736.7 171.25,738.5 171.5,738.5 171.7,738.5 171.7,740 172.1,740 172.1,741.5 172.3,741.5 173.28,741.5 173.28,743.05 175.22,743.05 175.22,744.6 176.2,744.6 176.77,744.6 176.77,746.15 177.93,746.15 177.93,747.7 178.5,747.7 182.35,747.7 182.35,748.5 186.2,748.5 186.95,748.5 186.95,750 188.45,750 188.45,751.5 189.2,751.5 206.2,751.8 206.57,751.8 206.57,753.45 207.32,753.45 207.32,755.1 207.7,755.1 233.8,755.1 234.15,755.1 234.15,756.7 234.85,756.7 234.85,758.3 235.2,758.3 236.2,758.3 236.2,760.4 238.2,760.4 238.2,762.5 239.2,762.5 367.6,762.5" fill="none" stroke="#8580BD" stroke-width="1.6" stroke-linejoin="miter" />
<path d="M94.8 643.6V651M91.1 647.3H98.5M97.8 645.7V653.1M94.1 649.4H101.5M110.9 657.8V665.2M107.2 661.5H114.6M112.5 658.9V666.3M108.8 662.6H116.2M135 698.5V705.9M131.3 702.2H138.7M141.9 702.1V709.5M138.2 705.8H145.6M186.2 744.8V752.2M182.5 748.5H189.9M212.3 751.4V758.8M208.6 755.1H216M254.8 758.8V766.2M251.1 762.5H258.5M259.4 758.8V766.2M255.7 762.5H263.1M265.6 758.8V766.2M261.9 762.5H269.3M309.2 758.8V766.2M305.5 762.5H312.9M311.2 758.8V766.2M307.5 762.5H314.9M313.3 758.8V766.2M309.6 762.5H317M358.5 758.8V766.2M354.8 762.5H362.2M362 758.8V766.2M358.3 762.5H365.7" stroke="#8580BD" stroke-width="1.1" fill="none"/>
<polyline points="85.4,643.3 86.25,643.3 86.25,644.2 87.1,644.2 87.67,644.2 87.67,645 88.83,645 88.83,645.8 89.4,645.8 89.78,645.8 89.78,646.7 90.55,646.7 90.55,647.6 91.32,647.6 91.32,648.5 91.7,648.5 92.22,648.5 92.22,649.5 93.25,649.5 93.25,650.5 94.28,650.5 94.28,651.5 94.8,651.5 95.3,651.5 95.3,652.53 96.3,652.53 96.3,653.57 97.3,653.57 97.3,654.6 97.8,654.6 98.45,654.6 98.45,655.63 99.75,655.63 99.75,656.67 101.05,656.67 101.05,657.7 101.7,657.7 102.33,657.7 102.33,658.73 103.6,658.73 103.6,659.77 104.87,659.77 104.87,660.8 105.5,660.8 106.28,660.8 106.28,661.95 107.82,661.95 107.82,663.1 108.6,663.1 109.8,663.1 109.8,663.6 111,663.6 112.4,663.6 112.4,664.8 113.8,664.8 114.16,664.8 114.16,665.77 114.89,665.77 114.89,666.75 115.61,666.75 115.61,667.73 116.34,667.73 116.34,668.7 116.7,668.7 117.18,668.7 117.18,669.63 118.15,669.63 118.15,670.57 119.12,670.57 119.12,671.5 119.6,671.5 120.4,671.5 120.4,672.47 122,672.47 122,673.43 123.6,673.43 123.6,674.4 124.4,674.4 124.79,674.4 124.79,675.36 125.57,675.36 125.57,676.32 126.35,676.32 126.35,677.28 127.13,677.28 127.13,678.24 127.91,678.24 127.91,679.2 128.3,679.2 128.78,679.2 128.78,680.16 129.74,680.16 129.74,681.12 130.7,681.12 130.7,682.08 131.66,682.08 131.66,683.04 132.62,683.04 132.62,684 133.1,684 133.9,684 133.9,684.97 135.5,684.97 135.5,685.93 137.1,685.93 137.1,686.9 137.9,686.9 139.1,686.9 139.1,687.85 141.5,687.85 141.5,688.8 142.7,688.8 143.67,688.8 143.67,689.77 145.6,689.77 145.6,690.73 147.53,690.73 147.53,691.7 148.5,691.7 148.97,691.7 148.97,692.68 149.93,692.68 149.93,693.65 150.88,693.65 150.88,694.62 151.83,694.62 151.83,695.6 152.3,695.6 154.25,695.6 154.25,697 156.2,697 157.45,697 157.45,698.1 159.95,698.1 159.95,699.2 161.2,699.2 162.8,699.2 162.8,700.17 166,700.17 166,701.13 169.2,701.13 169.2,702.1 170.8,702.1 172.73,702.1 172.73,703.35 176.57,703.35 176.57,704.6 178.5,704.6 180.43,704.6 180.43,705.65 184.27,705.65 184.27,706.7 186.2,706.7 187.7,706.7 187.7,707.3 189.2,707.3 194.6,707.3 194.6,708.05 205.4,708.05 205.4,708.8 210.8,708.8 215.4,708.8 215.4,709.6 224.6,709.6 224.6,710.4 229.2,710.4 231.52,710.4 231.52,711.6 236.18,711.6 236.18,712.8 238.5,712.8 238.88,712.8 238.88,713.8 239.62,713.8 239.62,714.8 240,714.8 244.8,714.8 244.8,715.8 249.6,715.8 256.35,715.8 256.35,716.7 263.1,716.7 293.8,716.7 294.77,716.7 294.77,717.7 296.73,717.7 296.73,718.7 297.7,718.7 298.65,718.7 298.65,719.65 300.55,719.65 300.55,720.6 301.5,720.6 303.43,720.6 303.43,721.55 307.27,721.55 307.27,722.5 309.2,722.5 330,722.7 335,722.7 335,723.5 340,723.5 342,723.5 342,724.5 346,724.5 346,725.5 348,725.5 423.8,725.8 423.8,730.8 427,730.8 427,736.5 448.6,736.5 448.6,744 489.2,744" fill="none" stroke="#0E6247" stroke-width="1.6" stroke-linejoin="miter" />
<path d="M94 647.8V655.2M90.3 651.5H97.7M96.5 649.8V657.2M92.8 653.5H100.2M112 659.7V667.1M108.3 663.4H115.7M135.5 681.6V689M131.8 685.3H139.2M138.8 683.6V691M135.1 687.3H142.5M143.2 685.3V692.7M139.5 689H146.9M152.3 691.6V699M148.6 695.3H156M174.6 699.63V707.03M170.9 703.33H178.3M186.2 703V710.4M182.5 706.7H189.9M213.8 705.36V712.76M210.1 709.06H217.5M216.9 705.63V713.03M213.2 709.33H220.6M226.2 706.44V713.84M222.5 710.14H229.9M250.6 712.17V719.57M246.9 715.87H254.3M253.5 712.36V719.76M249.8 716.06H257.2M256.3 712.55V719.95M252.6 716.25H260M259.2 712.74V720.14M255.5 716.44H262.9M262 712.93V720.33M258.3 716.63H265.7M263 712.99V720.39M259.3 716.69H266.7M264 713V720.4M260.3 716.7H267.7M265 713V720.4M261.3 716.7H268.7M266 713V720.4M262.3 716.7H269.7M267 713V720.4M263.3 716.7H270.7M268 713V720.4M264.3 716.7H271.7M269 713V720.4M265.3 716.7H272.7M270 713V720.4M266.3 716.7H273.7M271 713V720.4M267.3 716.7H274.7M278.5 713V720.4M274.8 716.7H282.2M281.3 713V720.4M277.6 716.7H285M284.2 713V720.4M280.5 716.7H287.9M287.1 713V720.4M283.4 716.7H290.8M297.7 715V722.4M294 718.7H301.4M299.1 715.7V723.1M295.4 719.4H302.8M300.5 716.4V723.8M296.8 720.1H304.2M301.9 717V724.4M298.2 720.7H305.6M303.3 717.34V724.74M299.6 721.04H307M304.7 717.69V725.09M301 721.39H308.4M306.1 718.04V725.44M302.4 721.74H309.8M307.5 718.38V725.78M303.8 722.08H311.2M308.9 718.73V726.13M305.2 722.43H312.6M310.3 718.81V726.21M306.6 722.51H314M311.7 718.82V726.22M308 722.52H315.4M313.1 718.84V726.24M309.4 722.54H316.8M316.9 718.87V726.27M313.2 722.57H320.6M320.8 718.91V726.31M317.1 722.61H324.5M331.7 719.14V726.54M328 722.84H335.4M334.6 719.37V726.77M330.9 723.07H338.3M335.8 719.46V726.86M332.1 723.16H339.5M339.2 719.74V727.14M335.5 723.44H342.9M347.9 721.77V729.18M344.2 725.48H351.6M349 721.8V729.2M345.3 725.5H352.7M350.6 721.81V729.21M346.9 725.51H354.3M352.2 721.82V729.22M348.5 725.52H355.9M353.8 721.82V729.22M350.1 725.52H357.5M355.4 721.83V729.23M351.7 725.53H359.1M357 721.84V729.24M353.3 725.54H360.7M358.6 721.84V729.24M354.9 725.54H362.3M360.2 721.85V729.25M356.5 725.55H363.9M361.8 721.85V729.25M358.1 725.55H365.5M363.4 721.86V729.26M359.7 725.56H367.1M368.6 721.88V729.28M364.9 725.58H372.3M370.9 721.89V729.29M367.2 725.59H374.6M373.3 721.9V729.3M369.6 725.6H377M375.6 721.91V729.31M371.9 725.61H379.3M392.1 721.97V729.37M388.4 725.67H395.8M393 721.98V729.38M389.3 725.68H396.7M393.9 721.98V729.38M390.2 725.68H397.6M394.8 721.99V729.39M391.1 725.69H398.5M399.6 722V729.4M395.9 725.7H403.3M401.3 722.01V729.41M397.6 725.71H405M406.3 722.03V729.43M402.6 725.73H410M407.7 722.04V729.44M404 725.74H411.4M409.4 722.04V729.44M405.7 725.74H413.1M411.1 722.05V729.45M407.4 725.75H414.8M417.5 722.08V729.48M413.8 725.78H421.2M428.4 732.8V740.2M424.7 736.5H432.1M442.5 732.8V740.2M438.8 736.5H446.2M445 732.8V740.2M441.3 736.5H448.7M449.2 740.3V747.7M445.5 744H452.9M461.2 740.3V747.7M457.5 744H464.9M480.3 740.3V747.7M476.6 744H484M484.6 740.3V747.7M480.9 744H488.3" stroke="#0E6247" stroke-width="1.1" fill="none"/>
<polyline points="85.4,643.3 98.5,643.4 103.1,643.4 103.1,644.2 107.7,644.2 109.22,644.2 109.22,644.95 112.28,644.95 112.28,645.7 113.8,645.7 114.97,645.7 114.97,646.85 117.33,646.85 117.33,648 118.5,648 120.03,648 120.03,649.15 123.07,649.15 123.07,650.3 124.6,650.3 126.53,650.3 126.53,651.45 130.38,651.45 130.38,652.6 132.3,652.6 133.85,652.6 133.85,653.4 136.95,653.4 136.95,654.2 138.5,654.2 140.03,654.2 140.03,655.2 143.07,655.2 143.07,656.2 144.6,656.2 145.63,656.2 145.63,657.07 147.7,657.07 147.7,657.93 149.77,657.93 149.77,658.8 150.8,658.8 152.33,658.8 152.33,659.8 155.38,659.8 155.38,660.8 156.9,660.8 160.35,660.8 160.35,661.9 163.8,661.9 164.98,661.9 164.98,663.05 167.32,663.05 167.32,664.2 168.5,664.2 180,664.2 180,664.9 191.5,664.9 200.75,664.9 200.75,665.8 210,665.8 211.15,665.8 211.15,666.75 213.45,666.75 213.45,667.7 214.6,667.7 223.85,667.7 223.85,668.2 233.1,668.2 234.25,668.2 234.25,669.35 236.55,669.35 236.55,670.5 237.7,670.5 238.85,670.5 238.85,671.5 240,671.5 241.45,671.5 241.45,672.5 244.35,672.5 244.35,673.5 245.8,673.5 248.65,673.5 248.65,674.4 251.5,674.4 255.35,674.4 255.35,675.4 259.2,675.4 275.55,675.4 275.55,676.3 291.9,676.3 292.22,676.3 292.22,677.27 292.85,677.27 292.85,678.23 293.48,678.23 293.48,679.2 293.8,679.2 295.25,679.2 295.25,680.2 298.15,680.2 298.15,681.2 299.6,681.2 300.25,681.2 300.25,682.33 301.55,682.33 301.55,683.47 302.85,683.47 302.85,684.6 303.5,684.6 306.35,684.6 306.35,686 309.2,686 321.7,686 321.7,686.9 334.2,686.9 336.5,686.9 336.88,686.9 336.88,688.05 337.62,688.05 337.62,689.2 338,689.2 347.9,689.2 348,689.2 348,690.07 348.2,690.07 348.2,690.93 348.4,690.93 348.4,691.8 348.5,691.8 423.8,691.8 423.8,700.2 426.7,700.2 426.7,708.8 448.6,708.8 448.6,721 489.2,721" fill="none" stroke="#EC9024" stroke-width="1.6" stroke-linejoin="miter" />
<path d="M138.5 649.7V657.1M134.8 653.4H142.2M175.4 660.71V668.11M171.7 664.41H179.1M186.9 661.06V668.46M183.2 664.76H190.6M215.8 664.03V671.43M212.1 667.73H219.5M225 664.28V671.68M221.3 667.98H228.7M251.9 670.75V678.15M248.2 674.45H255.6M255.4 671.21V678.61M251.7 674.91H259.1M258.3 671.58V678.98M254.6 675.28H262M262 671.78V679.18M258.3 675.48H265.7M263 671.8V679.2M259.3 675.5H266.7M264 671.83V679.23M260.3 675.53H267.7M265 671.86V679.26M261.3 675.56H268.7M266 671.89V679.29M262.3 675.59H269.7M267 671.91V679.31M263.3 675.61H270.7M268 671.94V679.34M264.3 675.64H271.7M269 671.97V679.37M265.3 675.67H272.7M270 672V679.4M266.3 675.7H273.7M271 672.02V679.42M267.3 675.72H274.7M278.5 672.23V679.63M274.8 675.93H282.2M281.3 672.31V679.71M277.6 676.01H285M284.2 672.39V679.79M280.5 676.09H287.9M287.1 672.47V679.87M283.4 676.17H290.8M298.7 677.19V684.59M295 680.89H302.4M301.2 678.89V686.29M297.5 682.59H304.9M305.4 681.37V688.77M301.7 685.07H309.1M306.5 681.64V689.04M302.8 685.34H310.2M307.6 681.91V689.31M303.9 685.61H311.3M308.7 682.18V689.58M305 685.88H312.4M309.8 682.32V689.72M306.1 686.02H313.5M310.9 682.36V689.76M307.2 686.06H314.6M312 682.4V689.8M308.3 686.1H315.7M313.1 682.44V689.84M309.4 686.14H316.8M316.9 682.58V689.98M313.2 686.28H320.6M320.8 682.72V690.12M317.1 686.42H324.5M337.5 684.73V692.13M333.8 688.43H341.2M339.2 685.5V692.9M335.5 689.2H342.9M347.9 685.5V692.9M344.2 689.2H351.6M349.6 688.1V695.5M345.9 691.8H353.3M351.3 688.1V695.5M347.6 691.8H355M353.1 688.1V695.5M349.4 691.8H356.8M354.8 688.1V695.5M351.1 691.8H358.5M356.5 688.1V695.5M352.8 691.8H360.2M358.3 688.1V695.5M354.6 691.8H362M360 688.1V695.5M356.3 691.8H363.7M361.1 688.1V695.5M357.4 691.8H364.8M368.6 688.1V695.5M364.9 691.8H372.3M370.9 688.1V695.5M367.2 691.8H374.6M373.3 688.1V695.5M369.6 691.8H377M375.6 688.1V695.5M371.9 691.8H379.3M392.1 688.1V695.5M388.4 691.8H395.8M393 688.1V695.5M389.3 691.8H396.7M393.9 688.1V695.5M390.2 691.8H397.6M394.8 688.1V695.5M391.1 691.8H398.5M399.6 688.1V695.5M395.9 691.8H403.3M401.3 688.1V695.5M397.6 691.8H405M406.3 688.1V695.5M402.6 691.8H410M407.7 688.1V695.5M404 691.8H411.4M409.4 688.1V695.5M405.7 691.8H413.1M411.1 688.1V695.5M407.4 691.8H414.8M417.5 688.1V695.5M413.8 691.8H421.2M428.4 705.1V712.5M424.7 708.8H432.1M442.5 705.1V712.5M438.8 708.8H446.2M445 705.1V712.5M441.3 708.8H448.7M449.2 717.3V724.7M445.5 721H452.9M461.2 717.3V724.7M457.5 721H464.9M480.3 717.3V724.7M476.6 721H484M484.6 717.3V724.7M480.9 721H488.3" stroke="#EC9024" stroke-width="1.1" fill="none"/>
<text x="348.17" y="670.8" font-size="9" fill="#F09C38" textLength="151.48" lengthAdjust="spacingAndGlyphs">Median (95% CI), 48.5 months (45.2-NR)</text>
<text x="194.97" y="703.5" font-size="9" fill="#257559" textLength="155.88" lengthAdjust="spacingAndGlyphs">Median (95% CI), 27.3 months (16.2-45.6)</text>
<text x="193.07" y="743.8" font-size="9" fill="#938DC6" textLength="146.78" lengthAdjust="spacingAndGlyphs">Median (95% CI), 9.0 months (6.0-11.4)</text>
<text x="199.77" y="780.4" font-size="9" fill="#B92C52" textLength="141.68" lengthAdjust="spacingAndGlyphs">Median (95% CI), 5.4 months (2.9-6.5)</text>
<text x="494.77" y="723.5" font-size="9" fill="#F09C38" textLength="11.88" lengthAdjust="spacingAndGlyphs">CR</text>
<text x="492.37" y="745.7" font-size="9" fill="#257559" textLength="19.18" lengthAdjust="spacingAndGlyphs">Total</text>
<text x="450.17" y="767.7" font-size="9" fill="#B92C52" textLength="54.58" lengthAdjust="spacingAndGlyphs">Nonresponder</text>
<text x="371.27" y="762.4" font-size="9" fill="#938DC6" textLength="10.68" lengthAdjust="spacingAndGlyphs">PR</text>
<text x="8.41" y="842" font-size="8.4" fill="#231F20" textLength="56.31" lengthAdjust="spacingAndGlyphs">Number at risk</text>
<text x="53.2" y="855" font-size="8.6" fill="#F09C38" textLength="11.53" lengthAdjust="spacingAndGlyphs">CR</text>
<text x="85.4" y="855" font-size="8.6" fill="#EC9024" text-anchor="middle" textLength="12.75" lengthAdjust="spacingAndGlyphs">136</text>
<text x="107.85" y="855" font-size="8.6" fill="#EC9024" text-anchor="middle" textLength="12.75" lengthAdjust="spacingAndGlyphs">135</text>
<text x="130.3" y="855" font-size="8.6" fill="#EC9024" text-anchor="middle" textLength="12.75" lengthAdjust="spacingAndGlyphs">128</text>
<text x="152.75" y="855" font-size="8.6" fill="#EC9024" text-anchor="middle" textLength="12.75" lengthAdjust="spacingAndGlyphs">120</text>
<text x="175.2" y="855" font-size="8.6" fill="#EC9024" text-anchor="middle" textLength="12.75" lengthAdjust="spacingAndGlyphs">116</text>
<text x="197.64" y="855" font-size="8.6" fill="#EC9024" text-anchor="middle" textLength="12.75" lengthAdjust="spacingAndGlyphs">112</text>
<text x="220.09" y="855" font-size="8.6" fill="#EC9024" text-anchor="middle" textLength="12.75" lengthAdjust="spacingAndGlyphs">109</text>
<text x="242.54" y="855" font-size="8.6" fill="#EC9024" text-anchor="middle" textLength="12.75" lengthAdjust="spacingAndGlyphs">105</text>
<text x="264.99" y="855" font-size="8.6" fill="#EC9024" text-anchor="middle" textLength="8.5" lengthAdjust="spacingAndGlyphs">88</text>
<text x="287.44" y="855" font-size="8.6" fill="#EC9024" text-anchor="middle" textLength="8.5" lengthAdjust="spacingAndGlyphs">62</text>
<text x="309.89" y="855" font-size="8.6" fill="#EC9024" text-anchor="middle" textLength="8.5" lengthAdjust="spacingAndGlyphs">47</text>
<text x="332.34" y="855" font-size="8.6" fill="#EC9024" text-anchor="middle" textLength="8.5" lengthAdjust="spacingAndGlyphs">40</text>
<text x="354.79" y="855" font-size="8.6" fill="#EC9024" text-anchor="middle" textLength="8.5" lengthAdjust="spacingAndGlyphs">30</text>
<text x="377.24" y="855" font-size="8.6" fill="#EC9024" text-anchor="middle" textLength="8.5" lengthAdjust="spacingAndGlyphs">22</text>
<text x="399.69" y="855" font-size="8.6" fill="#EC9024" text-anchor="middle" textLength="8.5" lengthAdjust="spacingAndGlyphs">17</text>
<text x="422.13" y="855" font-size="8.6" fill="#EC9024" text-anchor="middle" textLength="8.5" lengthAdjust="spacingAndGlyphs">12</text>
<text x="444.58" y="855" font-size="8.6" fill="#EC9024" text-anchor="middle" textLength="4.25" lengthAdjust="spacingAndGlyphs">8</text>
<text x="467.03" y="855" font-size="8.6" fill="#EC9024" text-anchor="middle" textLength="4.25" lengthAdjust="spacingAndGlyphs">3</text>
<text x="489.48" y="855" font-size="8.6" fill="#EC9024" text-anchor="middle" textLength="4.25" lengthAdjust="spacingAndGlyphs">0</text>
<text x="54.9" y="868" font-size="8.6" fill="#938DC6" textLength="9.83" lengthAdjust="spacingAndGlyphs">PR</text>
<text x="85.4" y="868" font-size="8.6" fill="#8580BD" text-anchor="middle" textLength="8.5" lengthAdjust="spacingAndGlyphs">51</text>
<text x="107.85" y="868" font-size="8.6" fill="#8580BD" text-anchor="middle" textLength="8.5" lengthAdjust="spacingAndGlyphs">46</text>
<text x="130.3" y="868" font-size="8.6" fill="#8580BD" text-anchor="middle" textLength="8.5" lengthAdjust="spacingAndGlyphs">34</text>
<text x="152.75" y="868" font-size="8.6" fill="#8580BD" text-anchor="middle" textLength="8.5" lengthAdjust="spacingAndGlyphs">25</text>
<text x="175.2" y="868" font-size="8.6" fill="#8580BD" text-anchor="middle" textLength="8.5" lengthAdjust="spacingAndGlyphs">16</text>
<text x="197.64" y="868" font-size="8.6" fill="#8580BD" text-anchor="middle" textLength="8.5" lengthAdjust="spacingAndGlyphs">12</text>
<text x="220.09" y="868" font-size="8.6" fill="#8580BD" text-anchor="middle" textLength="8.5" lengthAdjust="spacingAndGlyphs">10</text>
<text x="242.54" y="868" font-size="8.6" fill="#8580BD" text-anchor="middle" textLength="4.25" lengthAdjust="spacingAndGlyphs">8</text>
<text x="264.99" y="868" font-size="8.6" fill="#8580BD" text-anchor="middle" textLength="4.25" lengthAdjust="spacingAndGlyphs">6</text>
<text x="287.44" y="868" font-size="8.6" fill="#8580BD" text-anchor="middle" textLength="4.25" lengthAdjust="spacingAndGlyphs">5</text>
<text x="309.89" y="868" font-size="8.6" fill="#8580BD" text-anchor="middle" textLength="4.25" lengthAdjust="spacingAndGlyphs">4</text>
<text x="332.34" y="868" font-size="8.6" fill="#8580BD" text-anchor="middle" textLength="4.25" lengthAdjust="spacingAndGlyphs">3</text>
<text x="354.79" y="868" font-size="8.6" fill="#8580BD" text-anchor="middle" textLength="4.25" lengthAdjust="spacingAndGlyphs">3</text>
<text x="377.24" y="868" font-size="8.6" fill="#8580BD" text-anchor="middle" textLength="4.25" lengthAdjust="spacingAndGlyphs">0</text>
<text x="9.4" y="881.3" font-size="8.6" fill="#B92C52" textLength="55.33" lengthAdjust="spacingAndGlyphs">Nonresponder</text>
<text x="85.4" y="881.3" font-size="8.6" fill="#A8173F" text-anchor="middle" textLength="8.5" lengthAdjust="spacingAndGlyphs">70</text>
<text x="107.85" y="881.3" font-size="8.6" fill="#A8173F" text-anchor="middle" textLength="8.5" lengthAdjust="spacingAndGlyphs">42</text>
<text x="130.3" y="881.3" font-size="8.6" fill="#A8173F" text-anchor="middle" textLength="8.5" lengthAdjust="spacingAndGlyphs">28</text>
<text x="152.75" y="881.3" font-size="8.6" fill="#A8173F" text-anchor="middle" textLength="8.5" lengthAdjust="spacingAndGlyphs">17</text>
<text x="175.2" y="881.3" font-size="8.6" fill="#A8173F" text-anchor="middle" textLength="8.5" lengthAdjust="spacingAndGlyphs">14</text>
<text x="197.64" y="881.3" font-size="8.6" fill="#A8173F" text-anchor="middle" textLength="8.5" lengthAdjust="spacingAndGlyphs">12</text>
<text x="220.09" y="881.3" font-size="8.6" fill="#A8173F" text-anchor="middle" textLength="8.5" lengthAdjust="spacingAndGlyphs">11</text>
<text x="242.54" y="881.3" font-size="8.6" fill="#A8173F" text-anchor="middle" textLength="8.5" lengthAdjust="spacingAndGlyphs">11</text>
<text x="264.99" y="881.3" font-size="8.6" fill="#A8173F" text-anchor="middle" textLength="4.25" lengthAdjust="spacingAndGlyphs">9</text>
<text x="287.44" y="881.3" font-size="8.6" fill="#A8173F" text-anchor="middle" textLength="4.25" lengthAdjust="spacingAndGlyphs">5</text>
<text x="309.89" y="881.3" font-size="8.6" fill="#A8173F" text-anchor="middle" textLength="4.25" lengthAdjust="spacingAndGlyphs">4</text>
<text x="332.34" y="881.3" font-size="8.6" fill="#A8173F" text-anchor="middle" textLength="4.25" lengthAdjust="spacingAndGlyphs">3</text>
<text x="354.79" y="881.3" font-size="8.6" fill="#A8173F" text-anchor="middle" textLength="4.25" lengthAdjust="spacingAndGlyphs">2</text>
<text x="377.24" y="881.3" font-size="8.6" fill="#A8173F" text-anchor="middle" textLength="4.25" lengthAdjust="spacingAndGlyphs">1</text>
<text x="399.69" y="881.3" font-size="8.6" fill="#A8173F" text-anchor="middle" textLength="4.25" lengthAdjust="spacingAndGlyphs">1</text>
<text x="422.13" y="881.3" font-size="8.6" fill="#A8173F" text-anchor="middle" textLength="4.25" lengthAdjust="spacingAndGlyphs">1</text>
<text x="444.58" y="881.3" font-size="8.6" fill="#A8173F" text-anchor="middle" textLength="4.25" lengthAdjust="spacingAndGlyphs">0</text>
<text x="45.7" y="894.3" font-size="8.6" fill="#257559" textLength="19.03" lengthAdjust="spacingAndGlyphs">Total</text>
<text x="85.4" y="894.3" font-size="8.6" fill="#0E6247" text-anchor="middle" textLength="12.75" lengthAdjust="spacingAndGlyphs">257</text>
<text x="107.85" y="894.3" font-size="8.6" fill="#0E6247" text-anchor="middle" textLength="12.75" lengthAdjust="spacingAndGlyphs">223</text>
<text x="130.3" y="894.3" font-size="8.6" fill="#0E6247" text-anchor="middle" textLength="12.75" lengthAdjust="spacingAndGlyphs">190</text>
<text x="152.75" y="894.3" font-size="8.6" fill="#0E6247" text-anchor="middle" textLength="12.75" lengthAdjust="spacingAndGlyphs">162</text>
<text x="175.2" y="894.3" font-size="8.6" fill="#0E6247" text-anchor="middle" textLength="12.75" lengthAdjust="spacingAndGlyphs">146</text>
<text x="197.64" y="894.3" font-size="8.6" fill="#0E6247" text-anchor="middle" textLength="12.75" lengthAdjust="spacingAndGlyphs">136</text>
<text x="220.09" y="894.3" font-size="8.6" fill="#0E6247" text-anchor="middle" textLength="12.75" lengthAdjust="spacingAndGlyphs">130</text>
<text x="242.54" y="894.3" font-size="8.6" fill="#0E6247" text-anchor="middle" textLength="12.75" lengthAdjust="spacingAndGlyphs">124</text>
<text x="264.99" y="894.3" font-size="8.6" fill="#0E6247" text-anchor="middle" textLength="12.75" lengthAdjust="spacingAndGlyphs">103</text>
<text x="287.44" y="894.3" font-size="8.6" fill="#0E6247" text-anchor="middle" textLength="8.5" lengthAdjust="spacingAndGlyphs">72</text>
<text x="309.89" y="894.3" font-size="8.6" fill="#0E6247" text-anchor="middle" textLength="8.5" lengthAdjust="spacingAndGlyphs">55</text>
<text x="332.34" y="894.3" font-size="8.6" fill="#0E6247" text-anchor="middle" textLength="8.5" lengthAdjust="spacingAndGlyphs">46</text>
<text x="354.79" y="894.3" font-size="8.6" fill="#0E6247" text-anchor="middle" textLength="8.5" lengthAdjust="spacingAndGlyphs">35</text>
<text x="377.24" y="894.3" font-size="8.6" fill="#0E6247" text-anchor="middle" textLength="8.5" lengthAdjust="spacingAndGlyphs">23</text>
<text x="399.69" y="894.3" font-size="8.6" fill="#0E6247" text-anchor="middle" textLength="8.5" lengthAdjust="spacingAndGlyphs">18</text>
<text x="422.13" y="894.3" font-size="8.6" fill="#0E6247" text-anchor="middle" textLength="8.5" lengthAdjust="spacingAndGlyphs">13</text>
<text x="444.58" y="894.3" font-size="8.6" fill="#0E6247" text-anchor="middle" textLength="4.25" lengthAdjust="spacingAndGlyphs">8</text>
<text x="467.03" y="894.3" font-size="8.6" fill="#0E6247" text-anchor="middle" textLength="4.25" lengthAdjust="spacingAndGlyphs">3</text>
<text x="489.48" y="894.3" font-size="8.6" fill="#0E6247" text-anchor="middle" textLength="4.25" lengthAdjust="spacingAndGlyphs">0</text>
</svg></body></html>
